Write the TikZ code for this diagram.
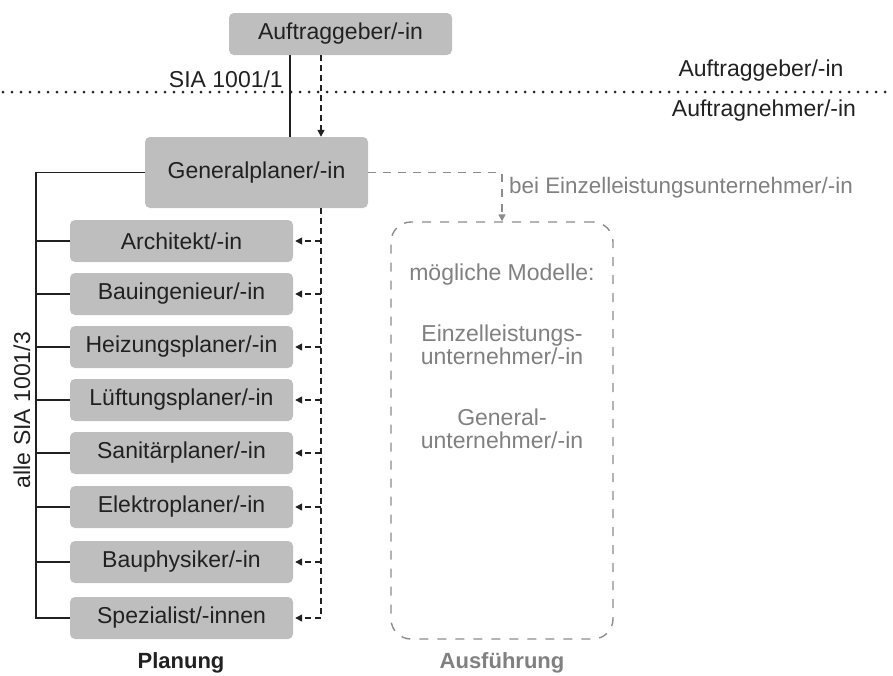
\documentclass[tikz,border=0pt]{standalone}
\usepackage{fontspec}
\setmainfont{Liberation Sans}
\usetikzlibrary{arrows.meta,calc}
\definecolor{boxfill}{RGB}{190,190,190}
\definecolor{ink}{RGB}{33,33,33}
\definecolor{softtext}{RGB}{128,128,128}
\definecolor{softline}{RGB}{140,140,140}
\tikzset{
  rolebox/.style={rectangle, rounded corners=5pt, fill=boxfill, text=ink,
    minimum width=223pt, minimum height=42pt, inner sep=0pt,
    font=\fontsize{23}{26}\selectfont},
  lbl/.style={text=ink, inner sep=0pt, font=\fontsize{23}{26}\selectfont},
  softlbl/.style={text=softtext, inner sep=0pt, font=\fontsize{23}{26}\selectfont, align=center},
  contract/.style={draw=ink, line width=1.6pt},
  order/.style={draw=ink, line width=1.4pt, dash pattern=on 6pt off 4pt},
  orderarrow/.style={order, -{Triangle[length=7pt,width=7pt]}},
  softdash/.style={draw=softline, line width=1.4pt, dash pattern=on 8pt off 7pt},
}
\begin{document}
\begin{tikzpicture}[x=1pt,y=-1pt]
\useasboundingbox (0,0) rectangle (893,675);

% client / contractor separation
\draw[ink, line width=3pt, line cap=round, dash pattern=on 0pt off 9pt] (3,92) -- (893,92);
\node[lbl] (lagb) at (761,71) {Auftraggeber/-in};
\node[lbl] (lagn) at (764,111) {Auftragnehmer/-in};

% client and general planner
\node[rolebox, minimum height=42pt] (ag) at (340.5,34) {Auftraggeber/-in};
\node[rolebox, minimum height=71pt] (gp) at (256.5,172.5) {Generalplaner/-in};

\draw[contract] ([xshift=-50.5pt]ag.south) -- ([xshift=-50.5pt]ag.south |- gp.north);
\draw[orderarrow] ([xshift=-19.5pt]ag.south) -- ([xshift=-19.5pt]ag.south |- gp.north);
\node[lbl, anchor=east] (sia1) at (283,79) {SIA 1001/1};

% planners
\foreach \n/\y/\t in {c1/241/{Architekt/-in}, c2/294/{Bauingenieur/-in}, c3/347/{Heizungsplaner/-in},
  c4/400/{Lüftungsplaner/-in}, c5/453/{Sanitärplaner/-in}, c6/507/{Elektroplaner/-in},
  c7/562/{Bauphysiker/-in}, c8/618/{Spezialist/-innen}}
  \node[rolebox] (\n) at (181.5,\y) {\t};

% contract bracket on the left
\coordinate (bk) at (36,172.5);
\draw[contract] (gp.west) -- (bk) -- (bk |- c8.west) -- (c8.west);
\foreach \n in {c1,c2,c3,c4,c5,c6,c7}
  \draw[contract] (bk |- \n.west) -- (\n.west);
\node[lbl, rotate=90] (sia3) at (22,410) {alle SIA 1001/3};

% dashed order line on the right
\coordinate (sp) at ([xshift=-19.5pt]ag.south |- gp.south);
\draw[order] (sp) -- (sp |- c8.east);
\foreach \n in {c1,c2,c3,c4,c5,c6,c7,c8}
  \draw[orderarrow] (sp |- \n.east) -- ([xshift=2pt]\n.east);

% execution models
\node[draw=softline, line width=1.4pt, dash pattern=on 9pt off 9pt, rounded corners=20pt,
  minimum width=222pt, minimum height=417pt, inner sep=0pt] (ex) at (502,430.5) {};
\node[softlbl] (mod) at (502,275) {mögliche Modelle:};
\node[softlbl, font=\fontsize{23}{23}\selectfont] (elu) at (502,345) {Einzelleistungs-\\unternehmer/-in};
\node[softlbl, font=\fontsize{23}{23}\selectfont] (gu) at (502,429) {General-\\unternehmer/-in};

\draw[softdash, -{Triangle[length=7pt,width=7pt]}] (gp.east) -- (gp.east -| ex.north) -- (ex.north);
\node[softlbl, anchor=west, font=\fontsize{22.4}{26}\selectfont] (bei) at (509,188) {bei Einzelleistungsunternehmer/-in};

% column captions
\node[lbl, font=\bfseries\fontsize{22}{24}\selectfont] (plan) at (181,663) {Planung};
\node[softlbl, font=\bfseries\fontsize{22}{24}\selectfont] (ausf) at (502,663) {Ausführung};
\end{tikzpicture}
\end{document}
